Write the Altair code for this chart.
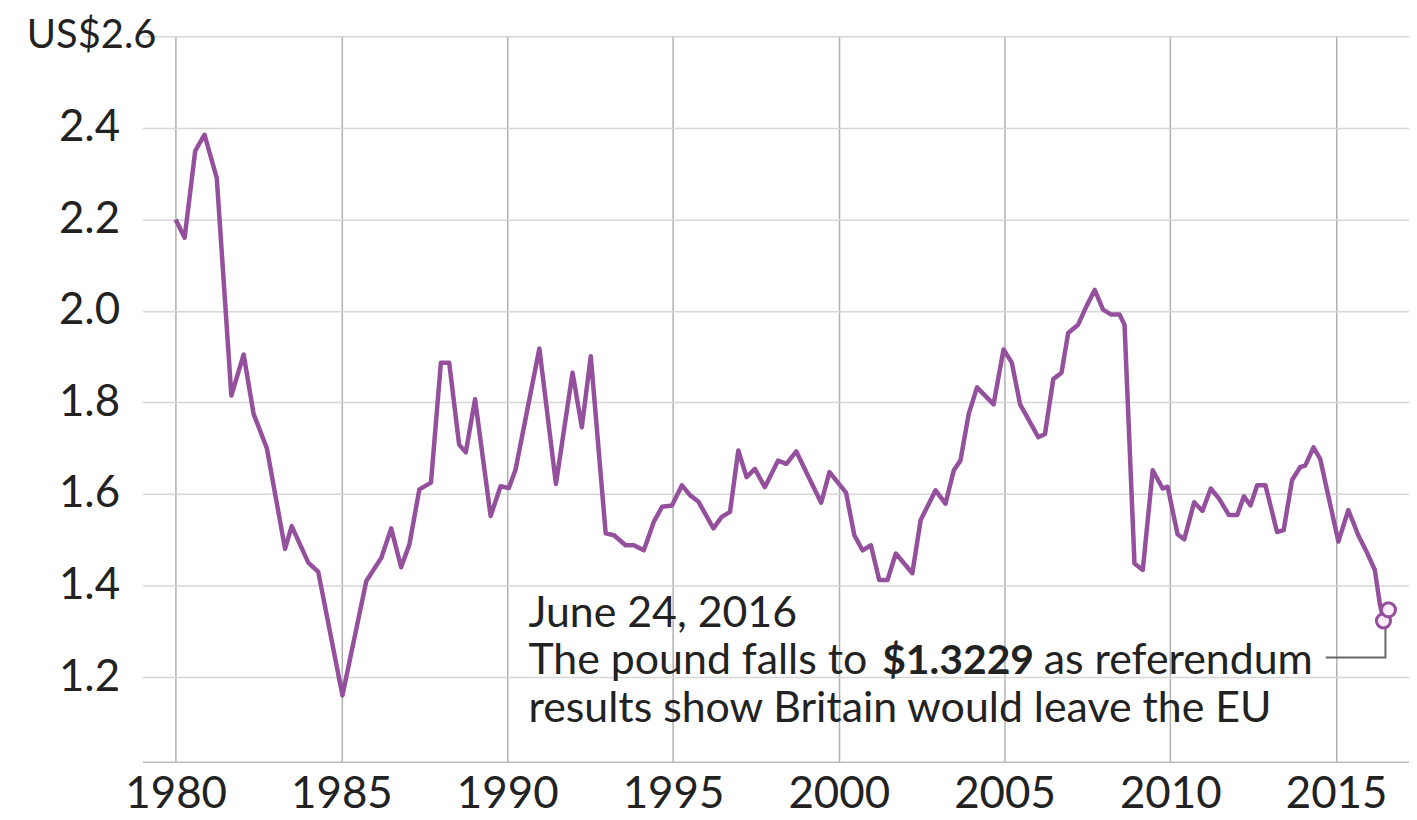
import altair as alt
import pandas as pd

# GBP/USD exchange rate
years = [1980.00, 1980.27, 1980.59, 1980.87, 1981.24, 1981.68, 1982.05, 1982.35, 1982.75,
         1983.30, 1983.50, 1984.00, 1984.30, 1985.03, 1985.75, 1986.20, 1986.50, 1986.80,
         1987.05, 1987.35, 1987.70, 1988.00, 1988.25, 1988.55, 1988.75, 1989.03, 1989.50,
         1989.80, 1990.05, 1990.25, 1990.97, 1991.47, 1991.97, 1992.25, 1992.52, 1992.97,
         1993.22, 1993.57, 1993.82, 1994.12, 1994.42, 1994.67, 1994.97, 1995.27, 1995.52,
         1995.77, 1996.22, 1996.47, 1996.72, 1996.97, 1997.22, 1997.47, 1997.77, 1998.17,
         1998.42, 1998.72, 1999.12, 1999.47, 1999.72, 2000.22, 2000.47, 2000.72, 2000.97,
         2001.22, 2001.47, 2001.72, 2002.22, 2002.47, 2002.92, 2003.22, 2003.47, 2003.67,
         2003.92, 2004.17, 2004.67, 2004.97, 2005.22, 2005.47, 2006.02, 2006.22, 2006.47,
         2006.72, 2006.92, 2007.22, 2007.47, 2007.72, 2007.97, 2008.22, 2008.47, 2008.62,
         2008.92, 2009.17, 2009.47, 2009.77, 2009.92, 2010.22, 2010.42, 2010.72, 2010.97,
         2011.22, 2011.47, 2011.77, 2012.02, 2012.22, 2012.42, 2012.62, 2012.87, 2013.22,
         2013.42, 2013.67, 2013.92, 2014.07, 2014.32, 2014.52, 2015.07, 2015.37, 2015.67,
         2015.92, 2016.17, 2016.32, 2016.43]
rates = [2.200, 2.160, 2.350, 2.385, 2.290, 1.815, 1.905, 1.775, 1.700,
         1.480, 1.530, 1.450, 1.430, 1.160, 1.410, 1.460, 1.525, 1.440,
         1.490, 1.610, 1.625, 1.887, 1.887, 1.708, 1.691, 1.807, 1.552,
         1.617, 1.613, 1.653, 1.918, 1.622, 1.865, 1.746, 1.901, 1.514,
         1.510, 1.488, 1.488, 1.477, 1.539, 1.572, 1.575, 1.619, 1.597,
         1.583, 1.525, 1.550, 1.561, 1.695, 1.637, 1.655, 1.615, 1.673,
         1.666, 1.693, 1.633, 1.581, 1.648, 1.603, 1.510, 1.477, 1.488,
         1.412, 1.412, 1.470, 1.427, 1.543, 1.608, 1.579, 1.652, 1.673,
         1.775, 1.833, 1.796, 1.916, 1.887, 1.796, 1.724, 1.731, 1.851,
         1.865, 1.952, 1.970, 2.010, 2.046, 2.003, 1.992, 1.992, 1.970,
         1.448, 1.434, 1.652, 1.612, 1.616, 1.512, 1.501, 1.582, 1.563,
         1.612, 1.590, 1.554, 1.554, 1.595, 1.575, 1.619, 1.619, 1.517,
         1.521, 1.630, 1.659, 1.662, 1.702, 1.677, 1.496, 1.565, 1.510,
         1.474, 1.434, 1.360, 1.325]

# Highlighted points (referendum result)
marker_years = [2016.43, 2016.58]
marker_rates = [1.3229, 1.347]

x_ticks = [1980, 1985, 1990, 1995, 2000, 2005, 2010, 2015]
y_ticks = [1.2, 1.4, 1.6, 1.8, 2.0, 2.2, 2.4, 2.6]
top_label = "US$2.6"

ann_line1 = "June 24, 2016"
ann_line2a = "The pound falls to"
ann_line2b = "$1.3229"
ann_line2c = "as referendum"
ann_line3 = "results show Britain would leave the EU"

# callout connector path (x, y in data units)
callout_x = [2014.69, 2016.49, 2016.49]
callout_y = [1.243, 1.243, 1.308]

PURPLE = "#94509d"
FONT = "Lato"
TEXT = "#222222"

df = pd.DataFrame({"year": years, "rate": rates})
markers = pd.DataFrame({"year": marker_years, "rate": marker_rates})
callout = pd.DataFrame({"year": callout_x, "rate": callout_y, "o": [0, 1, 2]})

xs = alt.Scale(domain=[1979, 2017.2], nice=False, zero=False)
ys = alt.Scale(domain=[1.015, 2.6], nice=False, zero=False)

x_axis = alt.Axis(values=x_ticks, format="d", title=None, grid=True, gridColor="#b0b0b0",
                  gridWidth=1.5, ticks=False, domain=True, domainColor="#bdbdbd", domainWidth=1.5,
                  labelFont=FONT, labelFontSize=44, labelColor=TEXT, labelPadding=11)
y_axis = alt.Axis(values=y_ticks, title=None, grid=True, gridColor="#d6d6d6", gridWidth=1.5,
                  ticks=False, domain=False, labelFont=FONT, labelFontSize=44, labelColor=TEXT,
                  labelPadding=23, labelExpr="datum.value >= 2.59 ? '' : format(datum.value, '.1f')")

line = alt.Chart(df).mark_line(color=PURPLE, strokeWidth=4.5, strokeJoin="round").encode(
    x=alt.X("year:Q", scale=xs, axis=x_axis),
    y=alt.Y("rate:Q", scale=ys, axis=y_axis),
)

conn = alt.Chart(callout).mark_line(color="#666666", strokeWidth=2).encode(
    x=alt.X("year:Q", scale=xs), y=alt.Y("rate:Q", scale=ys), order="o:Q")

pts = alt.Chart(markers).mark_point(shape="circle", filled=True, fill="#fbeefb", stroke=PURPLE,
                                    strokeWidth=3, size=200, opacity=1).encode(
    x=alt.X("year:Q", scale=xs), y=alt.Y("rate:Q", scale=ys))


def txt(s, x, y, align="left", bold=False, size=43):
    d = pd.DataFrame({"year": [x], "rate": [y], "t": [s]})
    return alt.Chart(d).mark_text(align=align, baseline="alphabetic", font=FONT, fontSize=size,
                                  fontWeight="bold" if bold else "normal", color=TEXT).encode(
        x=alt.X("year:Q", scale=xs), y=alt.Y("rate:Q", scale=ys), text="t:N")


top = alt.Chart(pd.DataFrame({"year": [1979.42], "rate": [2.6], "t": [top_label]})).mark_text(
    align="right", baseline="middle", font=FONT, fontSize=40, color=TEXT).encode(
    x=alt.X("year:Q", scale=xs), y=alt.Y("rate:Q", scale=ys), text="t:N")

chart = alt.layer(
    line, conn, pts,
    txt(ann_line1, 1990.64, 1.310),
    txt(ann_line2a, 1990.64, 1.206),
    txt(ann_line2b, 2001.31, 1.206, bold=True, size=41),
    txt(ann_line2c, 2014.30, 1.206, align="right"),
    txt(ann_line3, 1990.64, 1.102),
    top,
).properties(
    width=1271, height=728,
    autosize=alt.AutoSizeParams(type="none"),
    padding={"left": 135, "top": 27, "right": 0, "bottom": 56},
    background="white",
).configure_view(stroke=None)

chart.save("out.html", embed_options={"renderer": "svg", "actions": False})
